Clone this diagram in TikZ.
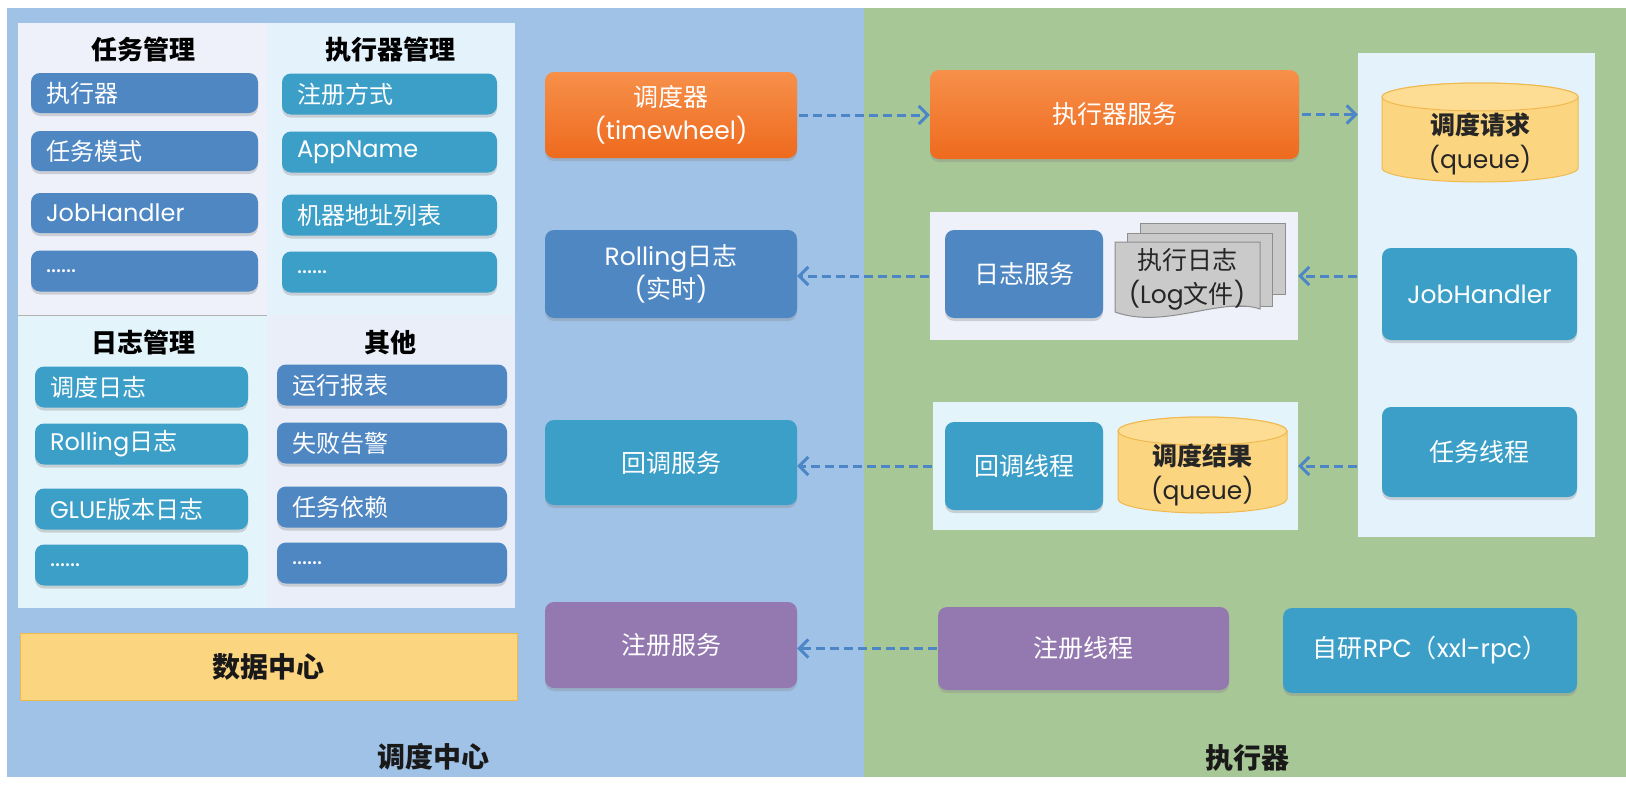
\documentclass[tikz,border=0pt]{standalone}
\usepackage{fontspec}
\setmainfont{Noto Sans CJK SC}
\newfontfamily\lat{Poppins}
\usetikzlibrary{arrows.meta,shadows}
\definecolor{panelblue}{HTML}{A0C2E6}
\definecolor{panelgreen}{HTML}{A8C796}
\definecolor{boxblue}{HTML}{4F87C3}
\definecolor{boxteal}{HTML}{3C9FC8}
\definecolor{boxpurple}{HTML}{9479B0}
\definecolor{orangeT}{HTML}{F7904A}
\definecolor{orangeB}{HTML}{EE6A1E}
\definecolor{qyellow}{HTML}{FCD581}
\definecolor{qtop}{HTML}{FDDC93}
\definecolor{qborder}{HTML}{F0B94E}
\definecolor{flowblue}{HTML}{4D86C6}
\definecolor{tintA}{HTML}{EEF1FA}
\definecolor{tintB}{HTML}{E4F2FB}
\definecolor{tintC}{HTML}{E4F4FB}
\definecolor{tintD}{HTML}{E9EEF8}
\definecolor{docgray}{HTML}{CACACA}
\definecolor{docborder}{HTML}{8E8E8E}
\tikzset{
  base/.style={rounded corners=9pt, text=white, drop shadow={shadow xshift=0pt, shadow yshift=-3pt, opacity=0.3}},
  li/.style={base, font=\fontsize{24}{28}\selectfont, inner xsep=15pt, align=left, minimum height=40pt},
  big/.style={base, font=\fontsize{25}{33}\selectfont, align=center},
  cblue/.style={fill=boxblue},
  cteal/.style={fill=boxteal},
  cpurple/.style={fill=boxpurple},
  corange/.style={top color=orangeT, bottom color=orangeB},
  hdr/.style={font=\bfseries\fontsize{26}{30}\selectfont, text=black},
  lbl/.style={font=\bfseries\fontsize{28}{32}\selectfont, text=black!90},
  grp/.style={inner sep=0pt},
  flow/.style={draw=flowblue, line width=3pt, dash pattern=on 9pt off 5pt,
    -{Straight Barb[length=9pt,width=18pt,line width=3pt]}},
  qtext/.style={font=\fontsize{25}{34}\selectfont, text=black!85, align=center}
}
\begin{document}
\begin{tikzpicture}[x=1pt,y=1pt]
\useasboundingbox (0,0) rectangle (1626,-790);
\fill[white] (0,0) rectangle (1626,-790);
% main panels
\fill[panelblue] (7,-8) rectangle (864,-777);
\fill[panelgreen] (864,-8) rectangle (1626,-777);
% inner light panel
\fill[tintA] (18,-23) rectangle (267,-315);
\fill[tintB] (267,-23) rectangle (515,-315);
\fill[tintC] (18,-315) rectangle (267,-608);
\fill[tintD] (267,-315) rectangle (515,-608);
\draw[color=black!30, line width=1pt] (18,-315) -- (267,-315);

% headers
\node[hdr] (h1) at (143,-50) {任务管理};
\node[hdr] (h2) at (390,-50) {执行器管理};
\node[hdr] (h3) at (143,-343) {日志管理};
\node[hdr] (h4) at (390,-343) {其他};

% task management
\node[li, cblue, text width=197pt] (t1) at (144.5,-93) {执行器};
\node[li, cblue, text width=197pt] (t2) at (144.5,-151) {任务模式};
\node[li, cblue, text width=197pt] (t3) at (144.5,-213) {{\lat JobHandler}};
\node[li, cblue, text width=197pt, minimum height=41pt] (t4) at (144.5,-271) {{\lat ......}};
% executor management
\node[li, cteal, text width=185pt, minimum height=41pt] (e1) at (389.5,-94) {注册方式};
\node[li, cteal, text width=185pt, minimum height=41pt] (e2) at (389.5,-152) {{\lat AppName}};
\node[li, cteal, text width=185pt, minimum height=41pt] (e3) at (389.5,-215) {机器地址列表};
\node[li, cteal, text width=185pt, minimum height=41pt] (e4) at (389.5,-272) {{\lat ......}};
% log management
\node[li, cteal, text width=183pt, minimum height=41pt] (l1) at (141.5,-387) {调度日志};
\node[li, cteal, text width=183pt, minimum height=41pt] (l2) at (141.5,-444) {{\lat Rolling}日志};
\node[li, cteal, text width=183pt, minimum height=41pt] (l3) at (141.5,-509) {{\lat GLUE}版本日志};
\node[li, cteal, text width=183pt, minimum height=41pt] (l4) at (141.5,-565) {{\lat ......}};
% others
\node[li, cblue, text width=200pt, minimum height=41pt] (o1) at (392,-385) {运行报表};
\node[li, cblue, text width=200pt, minimum height=41pt] (o2) at (392,-443) {失败告警};
\node[li, cblue, text width=200pt, minimum height=41pt] (o3) at (392,-507) {任务依赖};
\node[li, cblue, text width=200pt, minimum height=41pt] (o4) at (392,-563) {{\lat ......}};

% data center
\node[fill=qyellow, draw=qborder, line width=1pt, minimum width=497pt, minimum height=67pt, lbl] (dc) at (268.5,-666.5) {数据中心};

% center column
\node[big, corange, minimum width=252pt, minimum height=86pt] (sched) at (671,-115) {调度器\\{\lat (timewheel)}};
\node[big, cblue, minimum width=252pt, minimum height=88pt] (rolling) at (671,-274) {{\lat Rolling}日志\\{\lat (}实时{\lat )}};
\node[big, cteal, minimum width=252pt, minimum height=85pt] (cbsvc) at (671,-462.5) {回调服务};
\node[big, cpurple, minimum width=252pt, minimum height=86pt] (regsvc) at (671,-645) {注册服务};

% executor side
\node[big, corange, minimum width=369pt, minimum height=89pt] (execsvc) at (1114.5,-114.5) {执行器服务};

\node[grp, fill=tintA, minimum width=368pt, minimum height=128pt] (logpanel) at (1114,-276) {};
\node[big, cblue, minimum width=158pt, minimum height=88pt] (logsvc) at (1024,-274) {日志服务};
% document stack
\filldraw[fill=docgray, draw=docborder, line width=1pt] (1140,-223) rectangle (1285,-294);
\filldraw[fill=docgray, draw=docborder, line width=1pt] (1127,-233) rectangle (1272,-306);
\filldraw[fill=docgray, draw=docborder, line width=1pt] (1115,-242) -- (1260,-242) -- (1260,-309)
  .. controls (1222,-296) and (1165,-330) .. (1115,-312) -- cycle;
\node[qtext] (logfile) at (1187,-279) {执行日志\\{\lat (Log}文件{\lat )}};

\node[grp, fill=tintC, minimum width=365pt, minimum height=128pt] (cbpanel) at (1115.5,-466) {};
\node[big, cteal, minimum width=158pt, minimum height=88pt] (cbthread) at (1024,-466) {回调线程};
% result queue cylinder
\filldraw[fill=qyellow, draw=qborder, line width=1pt] (1118,-431) -- (1118,-499)
  arc[start angle=180, end angle=360, x radius=84.5, y radius=14] -- (1287,-431)
  arc[start angle=0, end angle=180, x radius=84.5, y radius=14] -- cycle;
\filldraw[fill=qtop, draw=qborder, line width=1pt] (1202.5,-431) ellipse[x radius=84.5, y radius=14];
\node[qtext] (result) at (1202.5,-475) {\textbf{调度结果}\\{\lat (queue)}};

\node[grp, fill=tintB, minimum width=237pt, minimum height=484pt] (rpanel) at (1476.5,-295) {};
% request queue cylinder
\filldraw[fill=qyellow, draw=qborder, line width=1pt] (1382,-97) -- (1382,-168)
  arc[start angle=180, end angle=360, x radius=98, y radius=14] -- (1578,-97)
  arc[start angle=0, end angle=180, x radius=98, y radius=14] -- cycle;
\filldraw[fill=qtop, draw=qborder, line width=1pt] (1480,-97) ellipse[x radius=98, y radius=14];
\node[qtext] (request) at (1480,-144) {\textbf{调度请求}\\{\lat (queue)}};

\node[big, cteal, minimum width=195pt, minimum height=92pt] (jobh) at (1479.5,-294) {{\lat JobHandler}};
\node[big, cteal, minimum width=195pt, minimum height=90pt] (task) at (1479.5,-452) {任务线程};

\node[big, cpurple, minimum width=291pt, minimum height=83pt] (regthread) at (1083.5,-648.5) {注册线程};
\node[big, cteal, minimum width=294pt, minimum height=85pt] (rpc) at (1430,-650.5) {自研{\lat RPC}（{\lat xxl-rpc}）};

% labels
\node[lbl] (lblsched) at (433,-757) {调度中心};
\node[lbl] (lblexec) at (1247,-758) {执行器};

% connectors
\draw[flow, shorten <=2pt] (sched.east) -- (execsvc.west |- sched.east);
\draw[flow, shorten <=3pt] (execsvc.east) -- (rpanel.west |- execsvc.east);
\draw[flow, shorten <=1pt] (logpanel.west) -- (rolling.east |- logpanel.west);
\draw[flow, shorten <=1pt] (cbpanel.west) -- (cbsvc.east |- cbpanel.west);
\draw[flow, shorten <=1pt] (rpanel.west |- logpanel.east) -- (logpanel.east);
\draw[flow, shorten <=1pt] (rpanel.west |- cbpanel.east) -- (cbpanel.east);
\draw[flow, shorten <=1pt] (regthread.west) -- (regsvc.east |- regthread.west);
\end{tikzpicture}
\end{document}
